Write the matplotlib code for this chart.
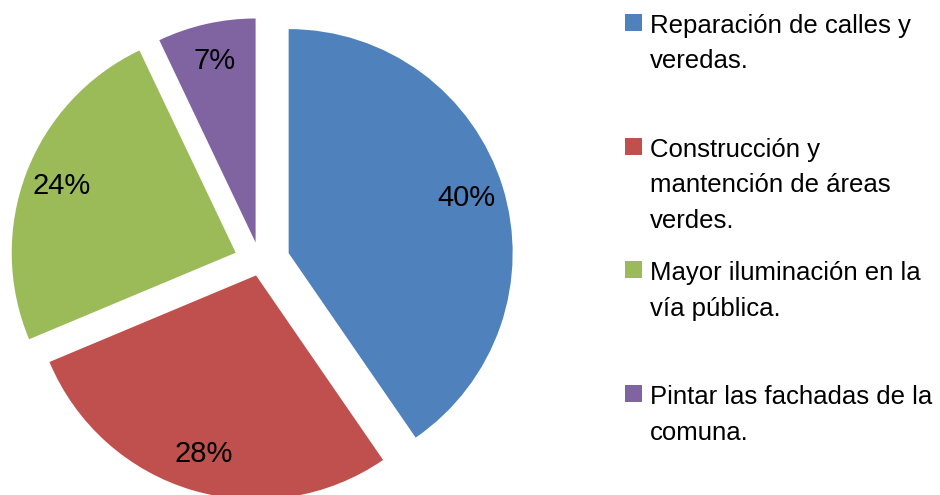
import matplotlib.pyplot as plt
from matplotlib.patches import Rectangle

# data
categories = [
    "Reparación de calles y\nveredas.",
    "Construcción y\nmantención de áreas\nverdes.",
    "Mayor iluminación en la\nvía pública.",
    "Pintar las fachadas de la\ncomuna.",
]
percentages = [40, 28, 24, 7]
colors = ["#4F81BD", "#C0504D", "#9BBB59", "#8064A2"]

FONT = ["Liberation Sans", "DejaVu Sans"]

W, H = 940, 495
fig = plt.figure(figsize=(W / 100, H / 100), dpi=100)
# axes in pixel units so layout is easy to tune
ax = fig.add_axes([0, 0, 1, 1])

# each slice pulled out by its own amount (px), as in the original
explode = [30, 14, 26, 20]

wedges, texts, autotexts = ax.pie(
    percentages,
    colors=colors,
    explode=explode,
    center=(260, H - 262),
    radius=224,
    startangle=90,
    counterclock=False,
    autopct=lambda p: f"{p * sum(percentages) / 100:.0f}%",
    pctdistance=0.83,
    wedgeprops=dict(linewidth=0),
    frame=True,
)
ax.set_xlim(0, W)
ax.set_ylim(0, H)
ax.set_aspect("equal")
ax.axis("off")
for t in autotexts:
    t.set_fontsize(21)
    t.set_family(FONT)
    t.set_color("black")

# legend, drawn by hand (Excel style: equal slots, top aligned)
slot = 123.7
base0 = 33
line_h = 35.5
for i, (lab, col) in enumerate(zip(categories, colors)):
    yb = H - (base0 + i * slot)
    ax.add_patch(Rectangle((625, yb + 2), 17, 17, facecolor=col,
                           edgecolor="none", clip_on=False))
    for j, line in enumerate(lab.split("\n")):
        ax.text(650, yb - j * line_h, line, ha="left", va="baseline",
                fontsize=18.5, family=FONT)

fig.savefig("out.png", dpi=100)
